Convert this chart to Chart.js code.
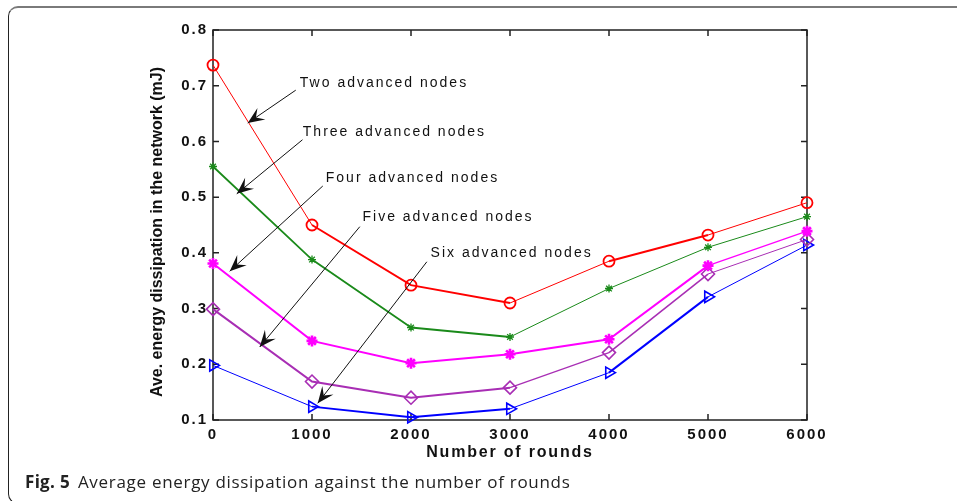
<!DOCTYPE html>
<html>
<head>
<meta charset="utf-8">
<script src="https://cdn.jsdelivr.net/npm/chart.js@4/dist/chart.umd.min.js"></script>
<style>
  html, body { margin: 0; padding: 0; background: #fff; }
  #wrap { position: relative; width: 957px; height: 501px; overflow: hidden; }
  #chart { position: absolute; left: 0; top: 0; }
  .frame {
    position: absolute; left: 8px; top: 6px; width: 1000px; height: 498px;
    border-top: 2px solid #7a7a7a; border-left: 1.5px solid #222;
    border-bottom: 1.5px solid #222; border-radius: 10px 0 0 10px;
    box-sizing: border-box;
  }
  .caption {
    position: absolute; left: 25px; top: 470px;
    font-family: "Open Sans", "Noto Sans", sans-serif; font-size: 17px; color: #222;
    letter-spacing: 0.7px; white-space: nowrap;
  }
  .caption b { font-weight: 700; margin-right: 8px; letter-spacing: 0.3px; }
</style>
</head>
<body>
<div id="wrap">
  <div class="frame"></div>
  <canvas id="chart" width="957" height="501"></canvas>
  <div class="caption"><b>Fig. 5</b>Average energy dissipation against the number of rounds</div>
</div>
<script>
let rounds = [0, 1000, 2000, 3000, 4000, 5000, 6000];
let twoNodes = [0.737, 0.450, 0.342, 0.310, 0.385, 0.432, 0.490];
let threeNodes = [0.555, 0.388, 0.266, 0.249, 0.336, 0.410, 0.465];
let fourNodes = [0.381, 0.242, 0.202, 0.218, 0.245, 0.377, 0.439];
let fiveNodes = [0.299, 0.169, 0.140, 0.158, 0.221, 0.362, 0.424];
let sixNodes = [0.198, 0.124, 0.105, 0.120, 0.185, 0.321, 0.414];
let yTicks = [0.1, 0.2, 0.3, 0.4, 0.5, 0.6, 0.7, 0.8];

// text callouts: label at (x, y), arrow from (ax, ay) to (tx, ty), all in data units
let callouts = [
    { text: "Two advanced nodes", x: 877, y: 0.705, ax: 836, ay: 0.692, tx: 351, ty: 0.633 },
    { text: "Three advanced nodes", x: 907, y: 0.617, ax: 904, ay: 0.603, tx: 240, ty: 0.506 },
    { text: "Four advanced nodes", x: 1139, y: 0.534, ax: 1109, ay: 0.520, tx: 169, ty: 0.367 },
    { text: "Five advanced nodes", x: 1510, y: 0.465, ax: 1483, ay: 0.447, tx: 472, ty: 0.231 },
    { text: "Six advanced nodes", x: 2198, y: 0.400, ax: 2160, ay: 0.384, tx: 1058, ty: 0.130 },
];

function points(values) {
    return values.map((v, i) => ({ x: rounds[i], y: v }));
}

function series(values, color, style, widths) {
    return {
        data: points(values),
        borderColor: color,
        backgroundColor: "rgba(0,0,0,0)",
        pointBorderColor: color,
        pointBackgroundColor: "rgba(0,0,0,0)",
        pointStyle: style.shape,
        pointRadius: style.radius,
        pointBorderWidth: style.width,
        pointRotation: style.rotation || 0,
        borderWidth: 1.5,
        segment: { borderWidth: (c) => widths[c.p0DataIndex] },
        tension: 0,
        clip: false,
    };
}

function drawArrow(ctx, x0, y0, x1, y1) {
    ctx.beginPath();
    ctx.moveTo(x0, y0);
    ctx.lineTo(x1, y1);
    ctx.stroke();
    const a = Math.atan2(y1 - y0, x1 - x0);
    const len = 18, spread = 0.4;
    ctx.beginPath();
    ctx.moveTo(x1, y1);
    ctx.lineTo(x1 - len * Math.cos(a - spread), y1 - len * Math.sin(a - spread));
    ctx.lineTo(x1 - len * 0.55 * Math.cos(a), y1 - len * 0.55 * Math.sin(a));
    ctx.lineTo(x1 - len * Math.cos(a + spread), y1 - len * Math.sin(a + spread));
    ctx.closePath();
    ctx.fill();
}

const boxPlugin = {
    id: "box",
    beforeUpdate(chart) { chart.ctx.letterSpacing = "2px"; },
    beforeDraw(chart) { chart.ctx.letterSpacing = "2px"; },
    beforeDatasetsDraw(chart) {
        const { ctx, chartArea: a, scales } = chart;
        ctx.save();
        ctx.strokeStyle = "#222";
        ctx.lineWidth = 1.5;
        ctx.strokeRect(a.left, a.top, a.right - a.left, a.bottom - a.top);
        const tick = 6;
        ctx.beginPath();
        rounds.forEach((r) => {
            const x = scales.x.getPixelForValue(r);
            ctx.moveTo(x, a.bottom); ctx.lineTo(x, a.bottom - tick);
            ctx.moveTo(x, a.top); ctx.lineTo(x, a.top + tick);
        });
        yTicks.forEach((v) => {
            const y = scales.y.getPixelForValue(v);
            ctx.moveTo(a.left, y); ctx.lineTo(a.left + tick, y);
            ctx.moveTo(a.right, y); ctx.lineTo(a.right - tick, y);
        });
        ctx.stroke();

        // axis titles
        ctx.fillStyle = "#111";
        ctx.font = "bold 16px 'Liberation Sans', Arial, sans-serif";
        ctx.letterSpacing = "1.8px";
        ctx.textAlign = "center";
        ctx.textBaseline = "middle";
        ctx.fillText("Number of rounds", (a.left + a.right) / 2, a.bottom + 33);
        ctx.translate(a.left - 55, (a.top + a.bottom) / 2 + 7);
        ctx.rotate(-Math.PI / 2);
        ctx.letterSpacing = "0px";
        ctx.fillText("Ave. energy dissipation in the network (mJ)", 0, 0);
        ctx.restore();
    },
    afterDatasetsDraw(chart) {
        const { ctx, scales } = chart;
        ctx.save();
        ctx.fillStyle = "#111";
        ctx.strokeStyle = "#111";
        ctx.lineWidth = 1;
        ctx.font = "14px 'Liberation Sans', Arial, sans-serif";
        ctx.letterSpacing = "2px";
        ctx.textAlign = "left";
        ctx.textBaseline = "middle";
        callouts.forEach((c) => {
            ctx.fillText(c.text, scales.x.getPixelForValue(c.x), scales.y.getPixelForValue(c.y));
            drawArrow(ctx,
                scales.x.getPixelForValue(c.ax), scales.y.getPixelForValue(c.ay),
                scales.x.getPixelForValue(c.tx), scales.y.getPixelForValue(c.ty));
        });
        ctx.restore();
    },
};

const tickFont = { family: "'Liberation Sans', Arial, sans-serif", size: 15, weight: "bold" };

new Chart(document.getElementById("chart"), {
    type: "line",
    data: {
        datasets: [
            series(twoNodes, "#ff0000", { shape: "circle", radius: 5.5, width: 1.8 }, [1, 2, 2, 1, 2, 1]),
            series(threeNodes, "#1a8a1a", { shape: "star", radius: 4, width: 1.3 }, [1.8, 1.8, 2, 1, 1, 1]),
            series(fourNodes, "#ff00ff", { shape: "star", radius: 5.5, width: 2.6 }, [2, 2, 2, 2, 2, 1.2]),
            series(fiveNodes, "#a82eb4", { shape: "rectRot", radius: 6.5, width: 1.6 }, [2, 2, 2, 1.2, 1.6, 1]),
            series(sixNodes, "#0000ff", { shape: "triangle", radius: 6.5, width: 1.6, rotation: 90 }, [1, 2, 2, 1, 2, 1]),
        ],
    },
    options: {
        responsive: false,
        animation: false,
        events: [],
        layout: { padding: { left: 0, top: 30, right: 150, bottom: 31 } },
        plugins: { legend: { display: false }, tooltip: { enabled: false } },
        scales: {
            x: {
                type: "linear",
                min: 0,
                max: 6000,
                grid: { display: false, drawTicks: false },
                border: { display: false },
                afterFit: (s) => { s.height = 50; },
                afterBuildTicks: (s) => { s.ticks = rounds.map((v) => ({ value: v })); },
                ticks: { font: tickFont, color: "#111", padding: 6, maxRotation: 0,
                         callback: (v) => String(v) },
            },
            y: {
                min: 0.1,
                max: 0.8,
                grid: { display: false, drawTicks: false },
                border: { display: false },
                afterFit: (s) => { s.width = 213; },
                afterBuildTicks: (s) => { s.ticks = yTicks.map((v) => ({ value: v })); },
                ticks: { font: tickFont, color: "#111", padding: 5,
                         callback: (v) => v.toFixed(1) },
            },
        },
    },
    plugins: [boxPlugin],
});
</script>
</body>
</html>
